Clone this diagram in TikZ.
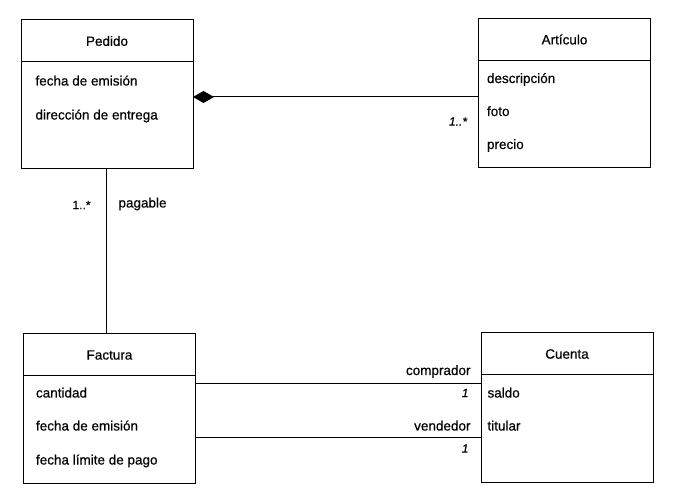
\documentclass[tikz,border=0pt]{standalone}
\usepackage{fontspec}
\setmainfont{Liberation Sans}[FakeBold=0.5]
\usetikzlibrary{positioning,arrows.meta}

\begin{document}
\begin{tikzpicture}[x=1pt, y=1pt, line width=1pt,
    font=\fontsize{13.5}{16}\selectfont,
    clshead/.style={rectangle, draw, outer sep=0pt, minimum width=172pt, minimum height=42pt},
    clsbody/.style={rectangle, draw, outer sep=0pt, minimum width=172pt, minimum height=107pt},
    attr/.style={anchor=west, inner sep=0pt, text height=10pt, text depth=3pt},
    role/.style={inner sep=0pt},
    mult/.style={inner sep=0pt, font=\fontsize{12}{14}\selectfont\itshape}]
  \useasboundingbox (0,0) rectangle (674,495);

  % classes
  \node[clshead] (ped) at (107,454) {Pedido};
  \node[clsbody, below=0pt of ped] (pedb) {};
  \node[clshead] (art) at (564.5,455.5) {Artículo};
  \node[clsbody, below=0pt of art] (artb) {};
  \node[clshead] (fac) at (109.5,140) {Factura};
  \node[clsbody, below=0pt of fac] (facb) {};
  \node[clshead] (cue) at (567,141) {Cuenta};
  \node[clsbody, below=0pt of cue] (cueb) {};

  % attributes
  \node[attr] (ped1) at ([shift={(14pt,-20pt)}]pedb.north west) {fecha de emisión};
  \node[attr, below=34pt of ped1.west, anchor=west] (ped2) {dirección de entrega};
  \node[attr] (art1) at ([shift={(8pt,-19pt)}]artb.north west) {descripción};
  \node[attr, below=33pt of art1.west, anchor=west] (art2) {foto};
  \node[attr, below=33pt of art2.west, anchor=west] (art3) {precio};
  \node[attr] (fac1) at ([shift={(12pt,-18pt)}]facb.north west) {cantidad};
  \node[attr, below=33pt of fac1.west, anchor=west] (fac2) {fecha de emisión};
  \node[attr, below=34pt of fac2.west, anchor=west] (fac3) {fecha límite de pago};
  \node[attr] (cue1) at ([shift={(6pt,-19pt)}]cueb.north west) {saldo};
  \node[attr, below=33pt of cue1.west, anchor=west] (cue2) {titular};

  % associations
  \draw[{Diamond[length=21pt,width=12pt]}-] ([yshift=18.5pt]pedb.east) -- ([yshift=18.5pt]pedb.east -| artb.west)
    node[mult, pos=1, anchor=east, xshift=-11pt, yshift=-24.5pt] {1..*};
  \draw ([xshift=-1pt]pedb.south) -- ([xshift=-1pt]pedb.south |- fac.north)
    node[role, pos=0, anchor=east, xshift=-15pt, yshift=-36pt, font=\fontsize{12}{14}\selectfont] {1..*}
    node[role, pos=0, anchor=west, xshift=12pt, yshift=-35pt] {pagable};
  \draw ([yshift=45.5pt]facb.east) -- ([yshift=45.5pt]facb.east -| cueb.west)
    node[role, pos=1, anchor=base east, xshift=-10pt, yshift=9pt] {comprador}
    node[mult, pos=1, anchor=east, xshift=-12pt, yshift=-9pt] {1};
  \draw ([yshift=-8pt]facb.east) -- ([yshift=-8pt]facb.east -| cueb.west)
    node[role, pos=1, anchor=base east, xshift=-10pt, yshift=7pt] {vendedor}
    node[mult, pos=1, anchor=east, xshift=-12pt, yshift=-11pt] {1};
\end{tikzpicture}
\end{document}
